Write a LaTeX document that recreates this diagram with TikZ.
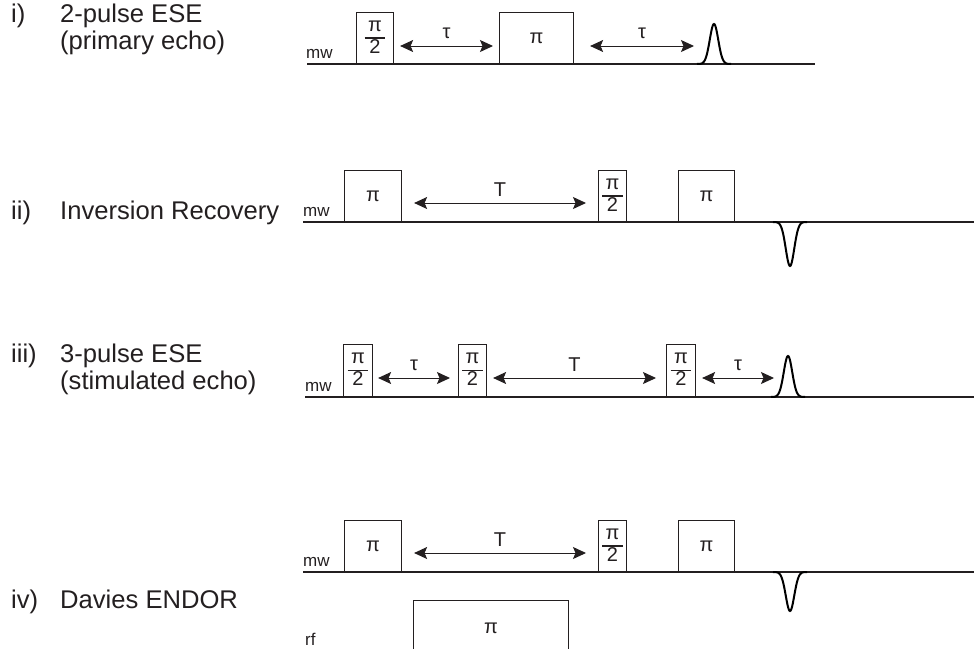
\documentclass[tikz,border=0pt]{standalone}
\usepackage{fontspec}
\setmainfont{Liberation Sans}
\usetikzlibrary{arrows.meta, positioning, calc}
\definecolor{inkgray}{HTML}{231F20}
\newcommand{\bigfnt}{\fontsize{25.6}{27}\selectfont}
\newcommand{\smallfnt}{\fontsize{17}{19}\selectfont}
\newcommand{\halfpi}{{\setlength{\arrayrulewidth}{1.1pt}\begin{tabular}{@{\hspace{3.5pt}}c@{\hspace{3.5pt}}}π\\\hline 2\end{tabular}}}

\begin{document}
\begin{tikzpicture}[x=1pt, y=-1pt,
  rowlabel/.style={anchor=base west, inner sep=0pt, font=\bigfnt, text=inkgray, align=left},
  chan/.style={anchor=base west, inner sep=0pt, font=\smallfnt, text=inkgray},
  pulse/.style={draw=inkgray, line width=1.1pt, minimum height=51pt, anchor=south west, inner sep=0pt,
    font=\fontsize{20}{21}\selectfont, text=inkgray,
    execute at begin node={\lower4pt\hbox\bgroup}, execute at end node={\egroup}},
  trace/.style={draw=inkgray, line width=1.1pt},
  echo/.style={draw=black, line width=2pt},
  dim/.style={{Stealth[length=13pt,width=12pt,inset=2.5pt]}-{Stealth[length=13pt,width=12pt,inset=2.5pt]}, line width=1pt, draw=inkgray},
  dimlabel/.style={above=3pt, font=\fontsize{20}{22}\selectfont, text=inkgray}
]
\useasboundingbox (0,0) rectangle (974,648);

% i) primary echo
\node[rowlabel] (numi) at (11,22) {i)};
\node[rowlabel] (namei) at (60,49) {2-pulse ESE\\(primary echo)};
\node[chan] (mwi) at (306,58) {mw};
\draw[trace] (307,64) -- (815,64);
\node[pulse, minimum width=37pt] (ia) at (356,64) {\halfpi};
\node[pulse, minimum width=74pt] (ib) at (499,64) {π};
\coordinate (ei) at (714,64);
\draw[echo] plot[domain=-17:17, samples=61] ({714+\x},{64-40*exp(-(\x/6)^2)});
\draw[dim] ([shift={(6,-18)}]ia.south east) -- node[dimlabel] {τ} ([shift={(-6,-18)}]ib.south west);
\draw[dim] ([shift={(16,-18)}]ib.south east) -- node[dimlabel] {τ} ([shift={(-20,-18)}]ei);

% ii) inversion recovery
\node[rowlabel] (numii) at (11,219) {ii)};
\node[rowlabel] (nameii) at (60,219) {Inversion Recovery};
\node[chan] (mwii) at (303,216) {mw};
\draw[trace] (303,222) -- (974,222);
\node[pulse, minimum width=57pt] (iia) at (344,222) {π};
\node[pulse, minimum width=28pt] (iib) at (598,222) {\halfpi};
\node[pulse, minimum width=56pt] (iic) at (678,222) {π};
\draw[echo] plot[domain=-17:17, samples=61] ({790+\x},{222+44*exp(-(\x/6)^2)});
\draw[dim] ([shift={(12,-19)}]iia.south east) -- node[dimlabel] {T} ([shift={(-12,-19)}]iib.south west);

% iii) stimulated echo
\node[rowlabel] (numiii) at (11,362) {iii)};
\node[rowlabel] (nameiii) at (60,389) {3-pulse ESE\\(stimulated echo)};
\node[chan] (mwiii) at (305,391) {mw};
\draw[trace] (305,397) -- (974,397);
\node[pulse, minimum width=29pt, minimum height=52pt] (iiia) at (343,397) {\halfpi};
\node[pulse, minimum width=28pt, minimum height=52pt] (iiib) at (458,397) {\halfpi};
\node[pulse, minimum width=29pt, minimum height=52pt] (iiic) at (666,397) {\halfpi};
\coordinate (eiii) at (788,397);
\draw[echo] plot[domain=-17:17, samples=61] ({788+\x},{397-41*exp(-(\x/6)^2)});
\draw[dim] ([shift={(5,-19)}]iiia.south east) -- node[dimlabel] {τ} ([shift={(-8,-19)}]iiib.south west);
\draw[dim] ([shift={(6,-19)}]iiib.south east) -- node[dimlabel] {T} ([shift={(-10,-19)}]iiic.south west);
\draw[dim] ([shift={(6,-19)}]iiic.south east) -- node[dimlabel] {τ} ([shift={(-14,-19)}]eiii);

% iv) Davies ENDOR
\node[rowlabel] (numiv) at (11,608) {iv)};
\node[rowlabel] (nameiv) at (60,608) {Davies ENDOR};
\node[chan] (mwiv) at (303,566) {mw};
\node[chan] (rfiv) at (305,645) {rf};
\draw[trace] (303,572) -- (974,572);
\node[pulse, minimum width=57pt] (iva) at (344,572) {π};
\node[pulse, minimum width=28pt] (ivb) at (598,572) {\halfpi};
\node[pulse, minimum width=56pt] (ivc) at (678,572) {π};
\node[pulse, minimum width=155pt, minimum height=56pt, anchor=north west] (ivrf) at (413,600) {π};
\draw[echo] plot[domain=-17:17, samples=61] ({790+\x},{572+39*exp(-(\x/6)^2)});
\draw[dim] ([shift={(12,-19)}]iva.south east) -- node[dimlabel] {T} ([shift={(-12,-19)}]ivb.south west);
\end{tikzpicture}
\end{document}
